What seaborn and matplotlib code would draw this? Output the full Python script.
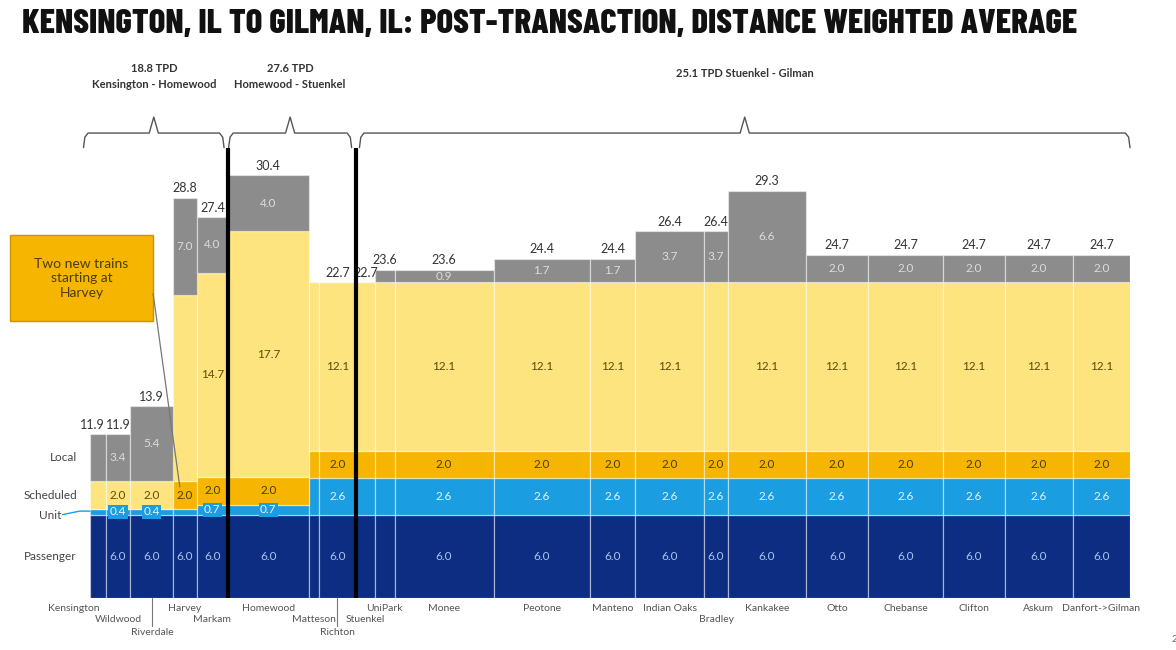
import matplotlib
matplotlib.use("Agg")
import matplotlib.pyplot as plt
import seaborn as sns
import numpy as np
from matplotlib.patches import Rectangle

# ---------------- data ----------------
stations = ["Kensington", "Wildwood", "Riverdale", "Harvey", "Markam", "Homewood",
            "Matteson", "Richton", "Stuenkel", "UniPark", "Monee", "Peotone",
            "Manteno", "Indian Oaks", "Bradley", "Kankakee", "Otto", "Chebanse",
            "Clifton", "Askum", "Danfort->Gilman"]
label_row = [0, 1, 2, 0, 1, 0, 1, 2, 1, 0, 0, 0, 0, 0, 1, 0, 0, 0, 0, 0, 0]
distance = [1.2, 1.9, 3.3, 1.8, 2.4, 6.2, 0.8, 2.8, 1.5, 1.5, 7.6, 7.4, 3.5,
            5.3, 1.8, 6.0, 4.8, 5.7, 4.8, 5.2, 4.4]

passenger = [6.0] * 21
unit = [0.4, 0.4, 0.4, 0.4, 0.7, 0.7] + [2.6] * 15
new_trains = [0.0, 0.0, 0.0, 2.0, 2.0, 2.0] + [2.0] * 15
scheduled = [2.0, 2.0, 2.0, 13.4, 14.7, 17.7] + [12.1] * 15
local = [3.4, 3.4, 5.4, 7.0, 4.0, 4.0, 0.0, 0.0, 0.0, 0.9, 0.9, 1.7, 1.7,
         3.7, 3.7, 6.6, 2.0, 2.0, 2.0, 2.0, 2.0]
totals = ["11.9", "11.9", "13.9", "28.8", "27.4", "30.4", None, "22.7", "22.7",
          "23.6", "23.6", "24.4", "24.4", "26.4", "26.4", "29.3", "24.7",
          "24.7", "24.7", "24.7", "24.7"]

corridors = ["18.8 TPD\nKensington - Homewood", "27.6 TPD\nHomewood - Stuenkel",
             "25.1 TPD Stuenkel - Gilman"]
corridor_bounds = [(0, 5), (5, 8), (8, 21)]   # segment index ranges
divider_segments = [5, 8]                     # thick lines at start of these segments

title = "KENSINGTON, IL TO GILMAN, IL: POST-TRANSACTION, DISTANCE WEIGHTED AVERAGE"

# ---------------- style ----------------
sns.set_theme(style="white")
plt.rcParams["font.family"] = ["Lato", "DejaVu Sans"]

layers = [("Passenger", passenger, "#0c2d82", "#a9c3ee"),
          ("Unit", unit, "#1b9de2", "#e6f4ff"),
          ("New", new_trains, "#f5b500", "#4d3b00"),
          ("Scheduled", scheduled, "#fde47e", "#5c4c08"),
          ("Local", local, "#8c8c8c", "#dcdcdc")]
hidden = {(0, "Unit"), (3, "Unit"), (3, "Scheduled"), (14, "Scheduled")}

W, H = 1176, 650
fig = plt.figure(figsize=(W / 100, H / 100), dpi=100)
ax = fig.add_axes([90 / W, 52 / H, 1040 / W, 538 / H])

widths = np.array(distance)
lefts = np.concatenate([[0], np.cumsum(widths)[:-1]])
centers = lefts + widths / 2
total_x = widths.sum()

bottom = np.zeros(len(widths))
for name, vals, color, tcolor in layers:
    vals = np.array(vals)
    ax.bar(lefts, vals, width=widths, bottom=bottom, align="edge", color=color,
           edgecolor=(1, 1, 1, 0.45), linewidth=0.9)
    for i, v in enumerate(vals):
        if v <= 0 or widths[i] < 1.75 or (i, name) in hidden:
            continue
        kw = {}
        if name == "Unit" and v < 1:
            kw["bbox"] = dict(boxstyle="square,pad=0.12", fc=color, ec="none")
        ax.text(centers[i], bottom[i] + v / 2, f"{v:.1f}", ha="center", va="center",
                fontsize=8.5, color=tcolor, **kw)
    bottom = bottom + vals

# totals above bars
for i, t in enumerate(totals):
    if t is None:
        continue
    if i == 0:
        ax.text(lefts[1] - 0.05, bottom[i] + 0.25, t, ha="right", va="bottom",
                fontsize=9, color="#333333")
    else:
        ax.text(centers[i], bottom[i] + 0.25, t, ha="center", va="bottom",
                fontsize=9, color="#333333")

# thick dividers
for s in divider_segments:
    ax.plot([lefts[s], lefts[s]], [0, 32.4], color="black", lw=3, solid_capstyle="butt",
            zorder=5)

# braces
def brace(x0, x1):
    xc = (x0 + x1) / 2
    d = 0.35
    y_end, y_h, y_tip = 32.4, 33.45, 34.6
    xs = [x0, x0 + d * 0.3, x0 + d, xc - d, xc, xc + d, x1 - d, x1 - d * 0.3, x1]
    ys = [y_end, y_h - 0.3, y_h, y_h, y_tip, y_h, y_h, y_h - 0.3, y_end]
    ax.plot(xs, ys, color="#555555", lw=1.0, clip_on=False)
    return xc

for (a, b), txt in zip(corridor_bounds, corridors):
    x0 = lefts[a] + (-0.5 if a == 0 else 0.05)
    x1 = lefts[b] - 0.3 if b < len(widths) else total_x
    if a == 8:
        x0 = lefts[a] + 0.3
    xc = brace(x0, x1)
    if "\n" in txt:
        ax.text(xc, 37.5, txt, ha="center", va="center", fontsize=8, fontweight="bold",
                color="#333333", linespacing=1.6, clip_on=False)
    else:
        ax.text(xc, 37.75, txt, ha="center", va="center", fontsize=8, fontweight="bold",
                color="#333333", clip_on=False)

# station labels
row_y = [-0.72, -1.58, -2.45]
for i, (s, r) in enumerate(zip(stations, label_row)):
    ha = "right" if i == 0 else "center"
    x = centers[i] if i != 0 else centers[i] + 0.1
    ax.text(x, row_y[r], s, ha=ha, va="center", fontsize=7.5, color="#555555",
            clip_on=False)
    if r == 2:
        ax.plot([centers[i], centers[i]], [0, row_y[r] + 0.45], color="#777777",
                lw=0.8, clip_on=False)

# layer labels on the left
b0 = 0.0
label_pos = {}
for name, vals, color, tcolor in layers:
    label_pos[name] = b0 + vals[0] / 2
    b0 += vals[0]
for name, txt in [("Passenger", "Passenger"), ("Unit", "Unit"),
                  ("Scheduled", "Scheduled"), ("Local", "Local")]:
    y = label_pos[name] if name != "Unit" else label_pos[name] - 0.25
    ax.text(-1.0 if name != "Unit" else -2.2, y, txt, ha="right", va="center",
            fontsize=8.5, color="#444444", clip_on=False)
ax.plot([-2.1, -0.8, 0], [label_pos["Unit"] - 0.2, label_pos["Unit"] + 0.05,
                          label_pos["Unit"] + 0.05],
        color="#1b9de2", lw=1, clip_on=False)

# callout box
ax.add_patch(Rectangle((-6.15, 19.9), 11.0, 6.2, facecolor="#f5b500",
                       edgecolor="#c99300", lw=1, clip_on=False, zorder=6))
ax.text(-0.65, 23.0, "Two new trains\nstarting at\nHarvey", ha="center", va="center",
        fontsize=10, color="#4d3b00", zorder=7, clip_on=False, linespacing=1.25)
ax.plot([4.85, 6.9], [21.9, 8.0], color="#777777", lw=0.9, zorder=6, clip_on=False)

ax.set_xlim(0, total_x)
ax.set_ylim(0, 538 / 13.9)
ax.set_xticks([])
ax.set_yticks([])
sns.despine(ax=ax, left=True, bottom=True)

fig.text(22 / W, 1 - 24 / H, title, ha="left", va="center", fontsize=25,
         fontweight=800, family=["Barlow Condensed", "DejaVu Sans"],
         color="#111111")
fig.text(1172 / W, 1 - 640 / H, "2", ha="left", va="center", fontsize=7, color="#666666")

fig.savefig("out.png", dpi=100)
